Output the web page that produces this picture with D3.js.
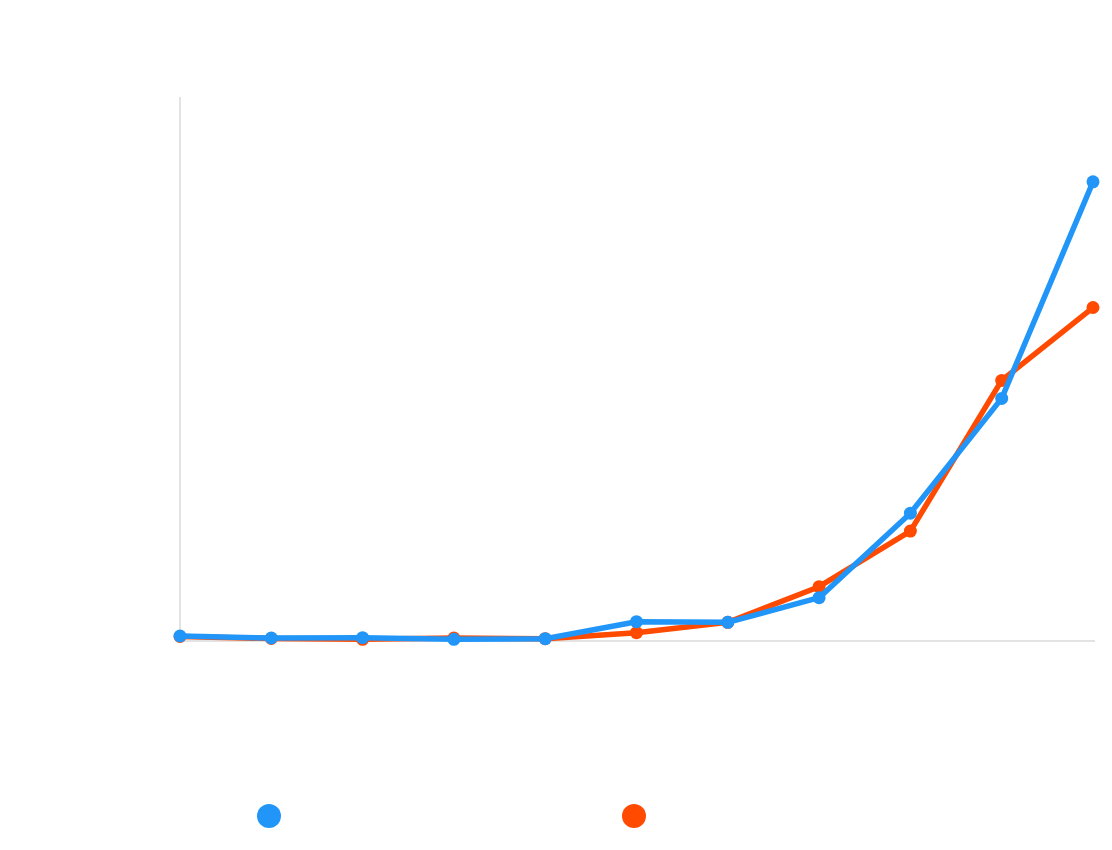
<!DOCTYPE html>
<html>
<head>
<meta charset="utf-8">
<script src="https://cdn.jsdelivr.net/npm/d3@7"></script>
<style>
  body { margin: 0; background: #fff; }
  .axis-line { stroke: #e3e3e3; stroke-width: 2; }
  .line { fill: none; stroke-width: 5.5; stroke-linejoin: round; }
</style>
</head>
<body>
<div id="chart"></div>
<script>
// Data (no labels shown in the original)
const periods = [0, 1, 2, 3, 4, 5, 6, 7, 8, 9, 10];
const blueValues = [0.92, 0.55, 0.61, 0.31, 0.42, 3.55, 3.44, 7.96, 23.5, 44.6, 84.4];
const orangeValues = [0.83, 0.46, 0.31, 0.55, 0.42, 1.53, 3.44, 9.98, 20.2, 47.9, 61.3];
const seriesNames = ['blue', 'orange'];
const seriesColors = ['#2196f8', '#ff4a00'];

const width = 1112;
const height = 850;
const margin = { top: 97, right: 19, bottom: 209, left: 180 };

const svg = d3
  .select('#chart')
  .append('svg')
  .attr('width', width)
  .attr('height', height);

// Scales
const xScale = d3.scaleLinear().domain([0, 10]).range([margin.left, 1093]);
const yScale = d3.scaleLinear().domain([0, 100]).range([height - margin.bottom, margin.top]);

// Axis lines (no ticks, no labels)
svg
  .append('line')
  .attr('class', 'axis-line')
  .attr('x1', xScale(0))
  .attr('x2', xScale(0))
  .attr('y1', yScale(100))
  .attr('y2', yScale(0));
svg
  .append('line')
  .attr('class', 'axis-line')
  .attr('x1', xScale(0))
  .attr('x2', width - 17)
  .attr('y1', yScale(0))
  .attr('y2', yScale(0));

const line = d3
  .line()
  .x((d, i) => xScale(periods[i]))
  .y((d) => yScale(d));

// Orange first so blue sits on top
const series = [
  { name: seriesNames[1], color: seriesColors[1], values: orangeValues },
  { name: seriesNames[0], color: seriesColors[0], values: blueValues }
];

series.forEach((s) => {
  svg.append('path').datum(s.values).attr('class', 'line').attr('stroke', s.color).attr('d', line);
  svg
    .append('g')
    .selectAll('circle')
    .data(s.values)
    .join('circle')
    .attr('cx', (d, i) => xScale(periods[i]))
    .attr('cy', (d) => yScale(d))
    .attr('r', 6.5)
    .attr('fill', s.color);
});

// Legend markers
const legendX = d3.scalePoint().domain(seriesNames).range([269, 634]);
svg
  .append('g')
  .selectAll('circle')
  .data(seriesNames)
  .join('circle')
  .attr('cx', (d) => legendX(d))
  .attr('cy', 816)
  .attr('r', 12)
  .attr('fill', (d, i) => seriesColors[i]);
</script>
</body>
</html>
